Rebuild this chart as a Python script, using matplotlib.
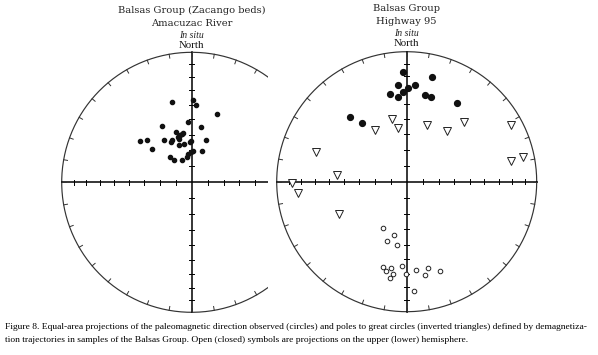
import numpy as np
import matplotlib.pyplot as plt

# Amacuzac River (Zacango beds), in situ, lower hemisphere directions
amac_dec = [346.5, 1.1, 3.0, 20.0, 356.5, 332.3, 9.2, 342.4, 308.8, 313.2, 326.5,
            335.4, 333.0, 343.3, 346.1, 348.6, 350.3, 343.4, 349.1, 341.5, 357.6,
            358.6, 18.7, 309.8, 17.7, 1.8, 358.1, 353.1, 349.0, 319.7, 322.0, 336.8]
amac_inc = [36.3, 36.8, 40.3, 43.2, 51.4, 49.3, 54.3, 56.6, 47.7, 50.7, 57.9,
            60.6, 61.3, 60.0, 59.2, 58.9, 58.6, 61.3, 65.3, 65.5, 64.5,
            63.8, 61.8, 57.1, 69.4, 70.5, 70.8, 72.1, 73.7, 69.0, 72.0, 74.6]

# Highway 95, lower hemisphere directions (closed circles)
hw_dec = [358.1, 13.6, 354.7, 4.9, 1.0, 357.4, 349.0, 354.4, 11.8, 16.2, 32.7, 318.6, 323.0]
hw_inc = [16.6, 18.4, 26.4, 26.5, 28.5, 31.8, 32.1, 34.7, 32.6, 32.9, 29.2, 34.4, 42.6]

# Highway 95, upper hemisphere directions (open circles)
hw_up_dec = [207.6, 193.2, 198.2, 188.9, 195.5, 190.5, 192.8, 188.6, 189.7, 183.2,
             180.2, 174.2, 165.9, 168.7, 159.5, 176.0]
hw_up_inc = [-57.2, -55.5, -50.5, -49.0, -32.4, -33.1, -30.0, -29.0, -25.8, -35.5,
             -29.7, -32.1, -32.4, -27.8, -27.9, -17.0]

# Highway 95, poles to great circles (inverted triangles)
gc_dec = [346.5, 350.5, 328.9, 19.4, 38.5, 43.5, 61.5, 78.6, 77.9, 288.1, 275.7,
          269.5, 264.2, 244.7]
gc_inc = [48.9, 55.3, 51.4, 51.8, 48.5, 36.4, 9.5, 19.5, 9.1, 27.6, 45.0,
          12.7, 17.2, 42.0]

W, H = 598, 355


def proj(dec, inc):
    dec = np.radians(np.asarray(dec, float))
    inc = np.abs(np.asarray(inc, float))
    r = np.sqrt(2) * np.sin(np.radians(90 - inc) / 2)
    return r * np.sin(dec), r * np.cos(dec)


def net_axes(fig, cx, cy, R, xmax=1.03):
    pad = 1.03
    x0 = cx - pad * R
    x1 = cx + xmax * R
    ax = fig.add_axes([x0 / W, 1 - (cy + pad * R) / H, (x1 - x0) / W, 2 * pad * R / H])
    ax.set_xlim(-pad, xmax)
    ax.set_ylim(-pad, pad)
    ax.axis('off')
    t = np.linspace(0, 2 * np.pi, 400)
    ax.plot(np.cos(t), np.sin(t), color='#333333', lw=0.85)
    ax.plot([-1, 1], [0, 0], color='black', lw=1.1)
    ax.plot([0, 0], [-1, 1], color='black', lw=1.1)
    # perimeter ticks every 10 degrees
    for az in range(0, 360, 10):
        a = np.radians(az)
        ax.plot([np.sin(a), 0.97 * np.sin(a)], [np.cos(a), 0.97 * np.cos(a)],
                color='#333333', lw=0.7)
    # inclination ticks on the axes
    for inc in range(10, 90, 10):
        r = np.sqrt(2) * np.sin(np.radians(90 - inc) / 2)
        for s in (-1, 1):
            ax.plot([s * r, s * r], [-0.017, 0.017], color='black', lw=0.7)
            ax.plot([-0.017, 0.017], [s * r, s * r], color='black', lw=0.7)
    return ax


fig = plt.figure(figsize=(W / 100, H / 100), dpi=100)

R = 130
ax1 = net_axes(fig, 191.7, 182.3, R, xmax=0.587)
x, y = proj(amac_dec, amac_inc)
ax1.plot(x, y, 'o', ms=3.0, color='#111111', mec='#111111')

ax2 = net_axes(fig, 406.7, 181.7, R)
x, y = proj(gc_dec, gc_inc)
ax2.plot(x, y, 'v', ms=5.5, mfc='white', mec='#222222', mew=0.7)
x, y = proj(hw_dec, hw_inc)
ax2.plot(x, y, 'o', ms=4.2, color='#111111')
x, y = proj(hw_up_dec, hw_up_inc)
ax2.plot(x, y, 'o', ms=3.3, mfc='white', mec='#222222', mew=0.7)

ser = 'DejaVu Serif'
tms = 'Liberation Serif'
fs_t = 7.1
fig.text(191.7 / W, 1 - 10.7 / H, 'Balsas Group (Zacango beds)', ha='center', va='center',
         family=ser, fontsize=fs_t, color='#222222')
fig.text(191.7 / W, 1 - 23.4 / H, 'Amacuzac River', ha='center', va='center',
         family=ser, fontsize=fs_t, color='#222222')
fig.text(191.7 / W, 1 - 35 / H, 'In situ', ha='center', va='center',
         family=tms, style='italic', fontsize=7, color='#222222')
fig.text(191.7 / W, 1 - 45 / H, 'North', ha='center', va='center',
         family=tms, fontsize=7.8, color='#111111')

fig.text(406.7 / W, 1 - 8.3 / H, 'Balsas Group', ha='center', va='center',
         family=ser, fontsize=fs_t, color='#222222')
fig.text(406.7 / W, 1 - 21 / H, 'Highway 95', ha='center', va='center',
         family=ser, fontsize=fs_t, color='#222222')
fig.text(406.7 / W, 1 - 33 / H, 'In situ', ha='center', va='center',
         family=tms, style='italic', fontsize=7, color='#222222')
fig.text(406.7 / W, 1 - 44 / H, 'North', ha='center', va='center',
         family=tms, fontsize=7.8, color='#111111')

cap1 = ('Figure 8. Equal-area projections of the paleomagnetic direction observed (circles) '
        'and poles to great circles (inverted triangles) defined by demagnetiza-')
cap2 = ('tion trajectories in samples of the Balsas Group. Open (closed) symbols are '
        'projections on the upper (lower) hemisphere.')
fs_c = 6.8
fig.text(5 / W, 1 - 327 / H, cap1, ha='left', va='center', family=tms, fontsize=fs_c)
fig.text(5 / W, 1 - 340 / H, cap2, ha='left', va='center', family=tms, fontsize=fs_c)

fig.savefig('out.png', dpi=100)
